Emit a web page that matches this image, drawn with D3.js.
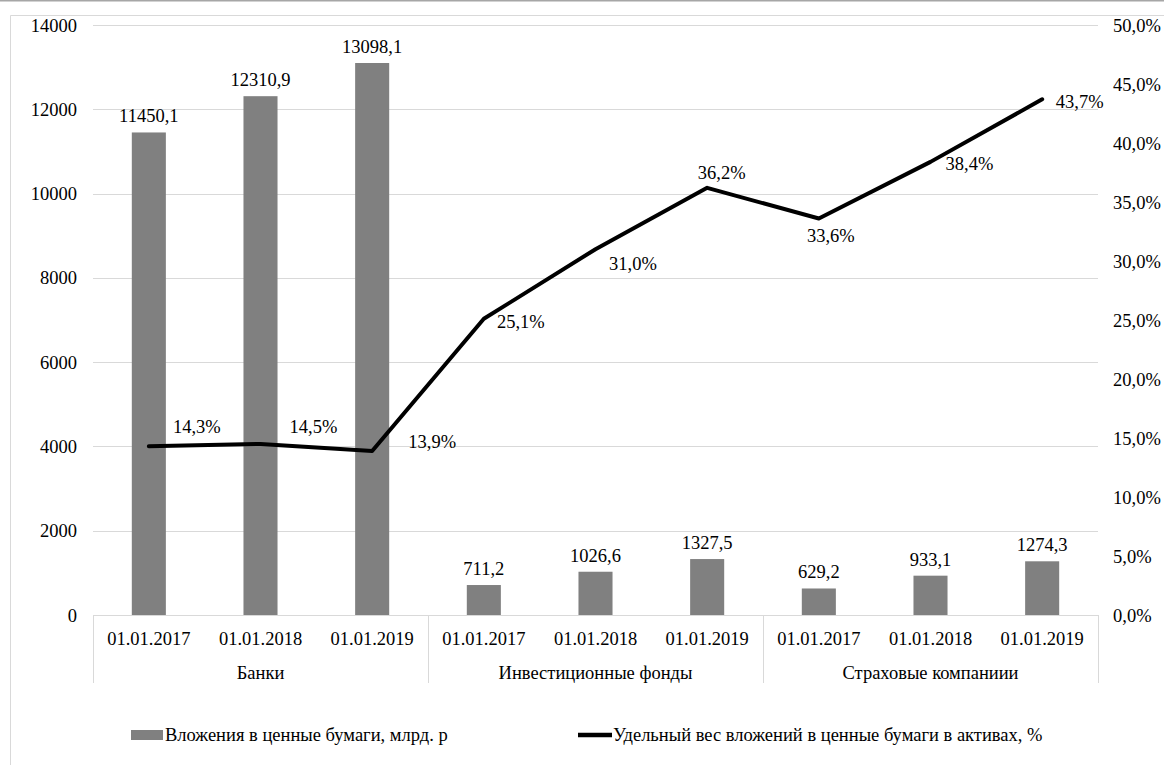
<!DOCTYPE html>
<html><head><meta charset="utf-8">
<script src="https://cdn.jsdelivr.net/npm/d3@7"></script>
<style>body{margin:0;background:#fff;overflow:hidden}</style>
</head><body>
<svg id="chart" width="1164" height="765"></svg>
<script>
// ---- data ----
const groups = ["Банки", "Инвестиционные фонды", "Страховые компаниии"];
const dates = ["01.01.2017", "01.01.2018", "01.01.2019"];
const investments = [11450.1, 12310.9, 13098.1, 711.2, 1026.6, 1327.5, 629.2, 933.1, 1274.3];
const shares = [14.3, 14.5, 13.9, 25.1, 31.0, 36.2, 33.6, 38.4, 43.7];
const leftTicks = [0, 2000, 4000, 6000, 8000, 10000, 12000, 14000];
const rightTicks = [0, 5, 10, 15, 20, 25, 30, 35, 40, 45, 50];
const seriesNames = ["Вложения в ценные бумаги, млрд. р", "Удельный вес вложений в ценные бумаги в активах, %"];

// label placement (layout, not data)
const shareLabelOffsets = [[48,-20],[53,-17],[60,-9],[37,3],[37.5,14],[14.5,-15],[12,16.5],[39,1.5],[37.5,2]];

// ---- layout ----
const L = 93, R = 1098, T = 25, B = 615;
const FONT = "Liberation Serif";
const svg = d3.select("#chart");
const fmt1 = v => d3.format(".1f")(v).replace(".", ",");
const txt = sel => sel.style("font-family", `"${FONT}"`).style("font-size", "18.5px").attr("fill", "#000");

// frame
svg.append("line").attr("x1",0).attr("x2",1164).attr("y1",0.5).attr("y2",0.5).attr("stroke","#a6a6a6").attr("stroke-width",2);
svg.append("path").attr("d",`M10.5,765 V15.5 H1164`).attr("fill","none").attr("stroke","#d9d9d9");

const cats = d3.range(groups.length * dates.length);
const x = d3.scaleBand().domain(cats).range([L, R]).paddingInner(0.695).paddingOuter(0.3475);
const xg = d3.scaleBand().domain(groups).range([L, R]);
const yL = d3.scaleLinear().domain([0, 14000]).range([B, T]);
const yR = d3.scaleLinear().domain([0, 50]).range([B, T]);
const cx = i => x(i) + x.bandwidth() / 2;

// gridlines
svg.append("g").selectAll("line").data(leftTicks).join("line")
  .attr("x1", L).attr("x2", R)
  .attr("y1", d => Math.round(yL(d)) + 0.5).attr("y2", d => Math.round(yL(d)) + 0.5)
  .attr("stroke", "#d9d9d9");

// left axis labels
svg.append("g").selectAll("text").data(leftTicks).join("text").call(txt)
  .attr("x", 77).attr("y", d => yL(d) + 6.5).attr("text-anchor", "end").text(d => d);

// right axis labels
svg.append("g").selectAll("text").data(rightTicks).join("text").call(txt)
  .attr("x", 1113).attr("y", d => yR(d) + 6.5).attr("text-anchor", "start").text(d => fmt1(d) + "%");

// category axis: separators
const seps = groups.map(g => xg(g)).concat([R]);
svg.append("g").selectAll("line").data(seps).join("line")
  .attr("x1", d => Math.round(d) + 0.5).attr("x2", d => Math.round(d) + 0.5)
  .attr("y1", B).attr("y2", 683).attr("stroke", "#d9d9d9");

// date labels
svg.append("g").selectAll("text").data(cats).join("text").call(txt)
  .attr("x", d => cx(d)).attr("y", 645).attr("text-anchor", "middle")
  .text(d => dates[d % dates.length]);

// group labels
svg.append("g").selectAll("text").data(groups).join("text").call(txt)
  .attr("x", d => xg(d) + xg.bandwidth() / 2).attr("y", 678.5).attr("text-anchor", "middle").text(d => d);

// bars
svg.append("g").selectAll("rect").data(investments).join("rect")
  .attr("x", (d, i) => x(i)).attr("width", x.bandwidth())
  .attr("y", d => yL(d)).attr("height", d => yL(0) - yL(d))
  .attr("fill", "#808080");

// bar labels
svg.append("g").selectAll("text").data(investments).join("text").call(txt)
  .attr("x", (d, i) => cx(i)).attr("y", d => yL(d) - 10).attr("text-anchor", "middle")
  .text(d => fmt1(d));

// line
const line = d3.line().x((d, i) => cx(i)).y(d => yR(d));
svg.append("path").datum(shares).attr("d", line)
  .attr("fill", "none").attr("stroke", "#000").attr("stroke-width", 4).attr("stroke-linejoin", "round").attr("stroke-linecap", "round");

// line labels
svg.append("g").selectAll("text").data(shares).join("text").call(txt)
  .attr("x", (d, i) => cx(i) + shareLabelOffsets[i][0])
  .attr("y", (d, i) => yR(d) + shareLabelOffsets[i][1] + 6.5)
  .attr("text-anchor", "middle")
  .text(d => fmt1(d) + "%");

// legend
const lg = svg.append("g");
lg.append("rect").attr("x", 131).attr("y", 730).attr("width", 32).attr("height", 10).attr("fill", "#808080");
lg.append("text").call(txt).attr("x", 165).attr("y", 740.5).text(seriesNames[0]);
lg.append("line").attr("x1", 578).attr("x2", 612).attr("y1", 735).attr("y2", 735).attr("stroke", "#000").attr("stroke-width", 4.5);
lg.append("text").call(txt).attr("x", 613).attr("y", 740.5).text(seriesNames[1]);
</script>
</body></html>
